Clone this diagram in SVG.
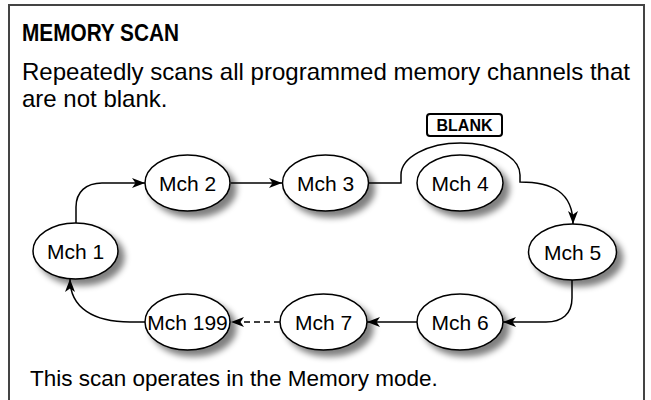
<svg xmlns="http://www.w3.org/2000/svg" width="651" height="400" viewBox="0 0 651 400">
<style>
text{font-family:"Liberation Sans",Arial,sans-serif;fill:#000}
.title{font-size:23px;font-weight:bold}
.body{font-size:24px}
.foot{font-size:22.5px}
.node ellipse{fill:#fff;stroke:#000;stroke-width:1.5}
.node text{font-size:21px;text-anchor:middle}
.conn path{fill:none;stroke:#000;stroke-width:1.5}
</style>
<defs>
<filter id="sh" x="-20%" y="-20%" width="150%" height="160%">
<feGaussianBlur in="SourceAlpha" stdDeviation="3"/>
<feOffset dx="6" dy="6" result="b"/>
<feComponentTransfer><feFuncA type="linear" slope="0.5"/></feComponentTransfer>
<feMerge><feMergeNode/><feMergeNode in="SourceGraphic"/></feMerge>
</filter>
<marker id="ar" viewBox="0 0 13 10" refX="13" refY="5" markerWidth="13" markerHeight="10" markerUnits="userSpaceOnUse" orient="auto">
<path d="M0,0 L13,5 L0,10 L3.5,5 z" fill="#000"/>
</marker>
</defs>
<rect width="651" height="400" fill="#fff"/>
<path d="M9,405 V5 H644 V405" fill="none" stroke="#444" stroke-width="2"/>
<text class="title" x="22" y="41" textLength="157" lengthAdjust="spacingAndGlyphs">MEMORY SCAN</text>
<text class="body" x="22" y="80" textLength="608" lengthAdjust="spacingAndGlyphs">Repeatedly scans all programmed memory channels that</text>
<text class="body" x="22" y="107">are not blank.</text>
<text class="foot" x="30" y="386">This scan operates in the Memory mode.</text>
<g id="blank">
<rect x="427" y="114" width="75" height="22" rx="3" fill="#fff" stroke="#000" stroke-width="2"/>
<text x="464.5" y="131" font-size="16" font-weight="bold" text-anchor="middle">BLANK</text>
</g>
<g class="conn" id="connectors">
<path d="M76,223 V207 C76,192 86,183 102,183 H145" marker-end="url(#ar)"/>
<path d="M231,183 H282" marker-end="url(#ar)"/>
<path d="M369,183 H401 V175 A59.5 32 0 0 1 520 175 V182 C552,182 573,192 573,224" marker-end="url(#ar)"/>
<path d="M572,280 V298 C572,314 562,322 546,322 H503" marker-end="url(#ar)"/>
<path d="M417,322 H367" marker-end="url(#ar)"/>
<path d="M280,322 H231" stroke-dasharray="6,4" marker-end="url(#ar)"/>
<path d="M145,322 H130 C94,322 70,308 70,279" marker-end="url(#ar)"/>
</g>
<g class="node" id="mch1"><ellipse cx="75.5" cy="251" rx="42.5" ry="28" filter="url(#sh)"/><text x="75.5" y="258.5">Mch 1</text></g>
<g class="node" id="mch2"><ellipse cx="187.5" cy="183" rx="42.5" ry="28" filter="url(#sh)"/><text x="187.5" y="190.5">Mch 2</text></g>
<g class="node" id="mch3"><ellipse cx="325.5" cy="183" rx="43" ry="28" filter="url(#sh)"/><text x="325.5" y="190.5">Mch 3</text></g>
<g class="node" id="mch4"><ellipse cx="460" cy="183" rx="43" ry="28" filter="url(#sh)"/><text x="460" y="190.5">Mch 4</text></g>
<g class="node" id="mch5"><ellipse cx="572.5" cy="252" rx="44" ry="28" filter="url(#sh)"/><text x="572.5" y="259.5">Mch 5</text></g>
<g class="node" id="mch6"><ellipse cx="460" cy="322" rx="43" ry="28" filter="url(#sh)"/><text x="460" y="329.5">Mch 6</text></g>
<g class="node" id="mch7"><ellipse cx="323.5" cy="322" rx="43.5" ry="28" filter="url(#sh)"/><text x="323.5" y="329.5">Mch 7</text></g>
<g class="node" id="mch199"><ellipse cx="187.5" cy="322" rx="42.5" ry="28" filter="url(#sh)"/><text x="187.5" y="329.5">Mch 199</text></g>
</svg>
